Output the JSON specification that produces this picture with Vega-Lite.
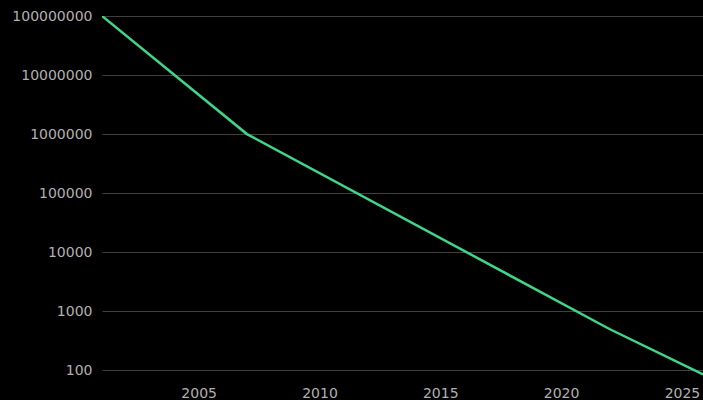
{
  "$schema": "https://vega.github.io/schema/vega-lite/v6.json",
  "autosize": {"type": "none"},
  "padding": {"left": 102, "top": 16, "right": 0, "bottom": 24},
  "width": 601,
  "height": 360,
  "background": "#000000",
  "config": {
    "view": {"stroke": null},
    "axis": {
      "labelFont": "DejaVu Sans",
      "labelFontSize": 14,
      "labelColor": "#b0b0b0",
      "ticks": false,
      "domain": false,
      "title": null
    }
  },
  "data": {
    "values": [
      {"date": "2001-01-01", "value": 100000000},
      {"date": "2007-01-01", "value": 1000000},
      {"date": "2022-01-01", "value": 500},
      {"date": "2025-11-15", "value": 85}
    ]
  },
  "mark": {"type": "line", "color": "#3fd68a", "strokeWidth": 2.5, "clip": true},
  "encoding": {
    "x": {
      "field": "date",
      "type": "temporal",
      "scale": {"domain": [{"year": 2001, "month": 1, "date": 1}, {"year": 2025, "month": 11, "date": 15}], "nice": false},
      "axis": {
        "grid": false,
        "format": "%Y",
        "labelPadding": 10,
        "values": [{"year": 2005}, {"year": 2010}, {"year": 2015}, {"year": 2020}, {"year": 2025}]
      }
    },
    "y": {
      "field": "value",
      "type": "quantitative",
      "scale": {"type": "log", "domain": [80, 100000000], "nice": false},
      "axis": {
        "grid": true,
        "gridColor": "#404040",
        "gridWidth": 1,
        "format": "d",
        "labelPadding": 10,
        "values": [100, 1000, 10000, 100000, 1000000, 10000000, 100000000]
      }
    }
  }
}
